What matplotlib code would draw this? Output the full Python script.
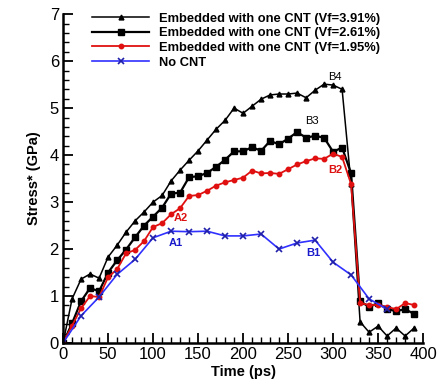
import matplotlib
matplotlib.use('Agg')
import matplotlib.pyplot as plt
from matplotlib.ticker import MultipleLocator

plt.rcParams['font.family'] = ['Liberation Sans', 'DejaVu Sans']

# time (ps) for the three CNT series, every 10 ps
t_cnt = list(range(0, 400, 10))
vf391 = [0, 0.94, 1.36, 1.47, 1.38, 1.83, 2.08, 2.36, 2.60, 2.79,
         3.00, 3.14, 3.45, 3.68, 3.89, 4.09, 4.32, 4.55, 4.74, 5.00,
         4.89, 5.04, 5.19, 5.28, 5.30, 5.30, 5.32, 5.22, 5.38, 5.51,
         5.49, 5.40, 3.38, 0.45, 0.23, 0.36, 0.15, 0.32, 0.15, 0.32]
vf261 = [0, 0.42, 0.89, 1.17, 1.10, 1.50, 1.76, 1.99, 2.25, 2.50,
         2.69, 2.88, 3.18, 3.20, 3.53, 3.55, 3.62, 3.75, 3.90, 4.08,
         4.08, 4.17, 4.09, 4.30, 4.23, 4.35, 4.49, 4.37, 4.41, 4.37,
         4.07, 4.16, 3.61, 0.89, 0.77, 0.85, 0.72, 0.68, 0.72, 0.62]
vf195 = [0, 0.37, 0.74, 1.00, 0.98, 1.40, 1.57, 1.91, 1.98, 2.17,
         2.47, 2.55, 2.74, 2.87, 3.13, 3.15, 3.24, 3.35, 3.42, 3.47,
         3.52, 3.67, 3.61, 3.62, 3.60, 3.70, 3.80, 3.87, 3.93, 3.92,
         4.03, 3.96, 3.38, 0.85, 0.81, 0.81, 0.77, 0.72, 0.85, 0.81]

# no CNT, every 20 ps
t_none = list(range(0, 380, 20))
no_cnt = [0, 0.58, 0.98, 1.46, 1.78, 2.24, 2.38, 2.37, 2.38, 2.28,
          2.28, 2.32, 2.00, 2.13, 2.19, 1.72, 1.45, 0.94, 0.72]

labels = ['Embedded with one CNT (Vf=3.91%)',
          'Embedded with one CNT (Vf=2.61%)',
          'Embedded with one CNT (Vf=1.95%)',
          'No CNT']

# point labels: text, t, stress, colour
notes = [('A1', 125, 2.13, '#1a1acc'), ('A2', 131, 2.66, '#dd1111'),
         ('B1', 278, 1.91, '#1a1acc'), ('B2', 302, 3.68, '#dd1111'),
         ('B3', 276, 4.72, 'black'), ('B4', 302, 5.66, 'black')]

fig = plt.figure(figsize=(4.38, 3.82), dpi=100)
ax = fig.add_axes([0.144, 0.102, 0.822, 0.861])

red = '#e01010'
blue = '#3030ff'
ax.plot(t_cnt, vf391, color='black', lw=1.1, marker='^', ms=3.5, label=labels[0])
ax.plot(t_cnt, vf261, color='black', lw=1.6, marker='s', ms=5, label=labels[1])
ax.plot(t_cnt, vf195, color=red, lw=1.3, marker='o', ms=3.2, label=labels[2])
ax.plot(t_none, no_cnt, color=blue, lw=1.2, marker='x', ms=4.5, mew=1.2,
        mec='#2020aa', label=labels[3])

for txt, tx, ty, c in notes:
    ax.text(tx, ty, txt, color=c, fontsize=8, fontweight='bold' if c != 'black' else 'normal',
            ha='center', va='center')

ax.set_xlim(0, 400)
ax.set_ylim(0, 7)
ax.xaxis.set_major_locator(MultipleLocator(50))
ax.xaxis.set_minor_locator(MultipleLocator(10))
ax.yaxis.set_major_locator(MultipleLocator(1))
ax.yaxis.set_minor_locator(MultipleLocator(0.2))
ax.tick_params(which='major', direction='in', length=7, width=1.3, labelsize=12, pad=3)
ax.tick_params(which='minor', direction='in', length=4, width=1)
for s in ['top', 'right']:
    ax.spines[s].set_visible(False)
for s in ['left', 'bottom']:
    ax.spines[s].set_linewidth(1.8)

ax.set_xlabel('Time (ps)', fontsize=10.5, fontweight='bold', labelpad=2)
ax.set_ylabel('Stress* (GPa)', fontsize=10.5, fontweight='bold', labelpad=6)

leg = ax.legend(loc='upper left', bbox_to_anchor=(0.067, 1.02), frameon=False,
                prop={'weight': 'bold', 'size': 9.3}, handlelength=4.4,
                labelspacing=0.2, handletextpad=0.75, borderaxespad=0)

plt.savefig('out.png', dpi=100)
